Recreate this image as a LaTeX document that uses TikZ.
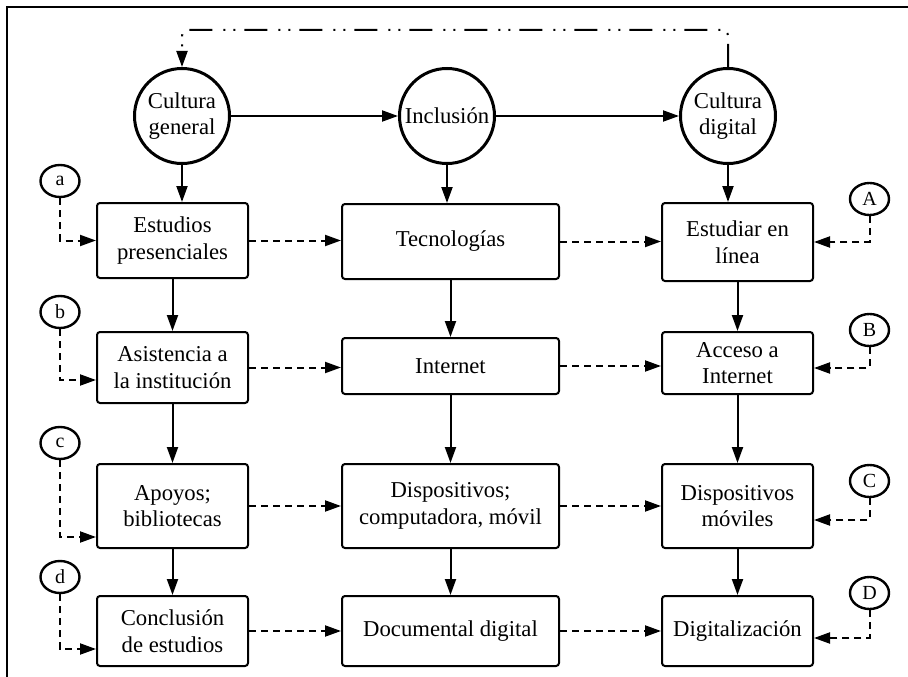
\documentclass[tikz,border=0pt]{standalone}
\usepackage{fontspec}
\setmainfont{Liberation Serif}
\usetikzlibrary{arrows.meta,shapes.geometric}
\tikzset{
  box/.style = {draw, rectangle, rounded corners=3pt, line width=2pt,
                align=center, inner sep=0pt,
                font=\fontsize{22.7}{26.5}\selectfont},
  bigcirc/.style = {draw, circle, line width=3pt, minimum size=95pt,
                inner sep=0pt, align=center,
                font=\fontsize{22.7}{26.5}\selectfont},
  tag/.style = {draw, ellipse, line width=2.4pt, minimum width=39pt,
                minimum height=32pt, inner sep=0pt,
                font=\fontsize{20}{22}\selectfont},
  link/.style = {line width=2pt, -{Triangle[length=16pt,width=11pt]}},
  dlink/.style = {link, dash pattern=on 7pt off 5pt}
}

\begin{document}
\begin{tikzpicture}[x=1pt, y=-1pt]
	\def \xl{172.5}   % left column
	\def \xm{450.5}   % middle column
	\def \xr{737.5}   % right column
	\def \wlr{151pt}
	\def \wm{217pt}

	\useasboundingbox (0,0) rectangle (908,677);

	% Frame
	\draw[line width=1.6pt] (7,677) -- (7,7) -- (908,7);

	% Circles
	\node[bigcirc] (cgen) at (182,116) {Cultura\\general};
	\node[bigcirc] (incl) at (447,116) {Inclusión};
	\node[bigcirc] (cdig) at (728,116) {Cultura\\digital};

	% Boxes, row 1
	\node[box, minimum width=\wlr, minimum height=75pt] (estud) at (\xl,240.5) {Estudios\\presenciales};
	\node[box, minimum width=\wm,  minimum height=75pt] (tecno) at (\xm,241.5) {Tecnologías};
	\node[box, minimum width=\wlr, minimum height=78pt] (linea) at (\xr,242)   {Estudiar en\\línea};
	% Boxes, row 2
	\node[box, minimum width=\wlr, minimum height=71pt] (asist) at (\xl,367.5) {Asistencia a\\la institución};
	\node[box, minimum width=\wm,  minimum height=56pt] (inter) at (\xm,366)   {Internet};
	\node[box, minimum width=\wlr, minimum height=62pt] (acces) at (\xr,363)   {Acceso a\\Internet};
	% Boxes, row 3
	\node[box, minimum width=\wlr, minimum height=84pt] (apoyo) at (\xl,506) {Apoyos;\\bibliotecas};
	\node[box, minimum width=\wm,  minimum height=84pt] (dispo) at (\xm,506) {Dispositivos;\\computadora, móvil};
	\node[box, minimum width=\wlr, minimum height=84pt] (movil) at (\xr,506) {Dispositivos\\móviles};
	% Boxes, row 4
	\node[box, minimum width=\wlr, minimum height=70pt] (concl) at (\xl,631) {Conclusión\\de estudios};
	\node[box, minimum width=\wm,  minimum height=70pt] (docum) at (\xm,631) {Documental digital};
	\node[box, minimum width=\wlr, minimum height=70pt] (digit) at (\xr,631) {Digitalización};

	% Tags
	\node[tag] (ta) at (60,181)  {a};
	\node[tag] (tb) at (60,312)  {b};
	\node[tag] (tc) at (60,443)  {c};
	\node[tag] (td) at (60,577)  {d};
	\node[tag] (tA) at (869.5,199) {A};
	\node[tag] (tB) at (869.5,330) {B};
	\node[tag] (tC) at (869.5,481) {C};
	\node[tag] (tD) at (869.5,593) {D};

	% Feedback (digital -> general)
	\draw[link, dash pattern=on 23pt off 9pt on 2pt off 8pt on 2pt off 11pt, rounded corners=6pt]
		(cdig.north) -- ++(0,-37) -| (cgen.north);

	% Circles
	\draw[link] (cgen) -- (incl);
	\draw[link] (incl) -- (cdig);
	\draw[link] (cgen) -- (cgen |- estud.north);
	\draw[link] (incl) -- (incl |- tecno.north);
	\draw[link] (cdig) -- (cdig |- linea.north);

	% Columns
	\draw[link] (estud) -- (asist);
	\draw[link] (asist) -- (apoyo);
	\draw[link] (apoyo) -- (concl);
	\draw[link] (tecno) -- (inter);
	\draw[link] (inter) -- (dispo);
	\draw[link] (dispo) -- (docum);
	\draw[link] (linea) -- (acces);
	\draw[link] (acces) -- (movil);
	\draw[link] (movil) -- (digit);

	% Rows
	\draw[dlink] (estud.east) -- (estud.east -| tecno.west);
	\draw[dlink] (tecno.east) -- (tecno.east -| linea.west);
	\draw[dlink] (asist.east) -- (asist.east -| inter.west);
	\draw[dlink] (inter.east) -- (inter.east -| acces.west);
	\draw[dlink] (apoyo) -- (dispo);
	\draw[dlink] (dispo) -- (movil);
	\draw[dlink] (concl) -- (docum);
	\draw[dlink] (docum) -- (digit);

	% Tags -> boxes
	\draw[dlink] (ta) |- (estud.west);
	\draw[dlink] (tb) |- ([yshift=-12.5pt]asist.west);
	\draw[dlink] (tc) |- ([yshift=-31pt]apoyo.west);
	\draw[dlink] (td) |- ([yshift=-18pt]concl.west);
	\draw[dlink] (tA) |- (linea.east);
	\draw[dlink] (tB) |- ([yshift=-5pt]acces.east);
	\draw[dlink] (tC) |- ([yshift=-14pt]movil.east);
	\draw[dlink] (tD) |- ([yshift=-7pt]digit.east);

\end{tikzpicture}
\end{document}
